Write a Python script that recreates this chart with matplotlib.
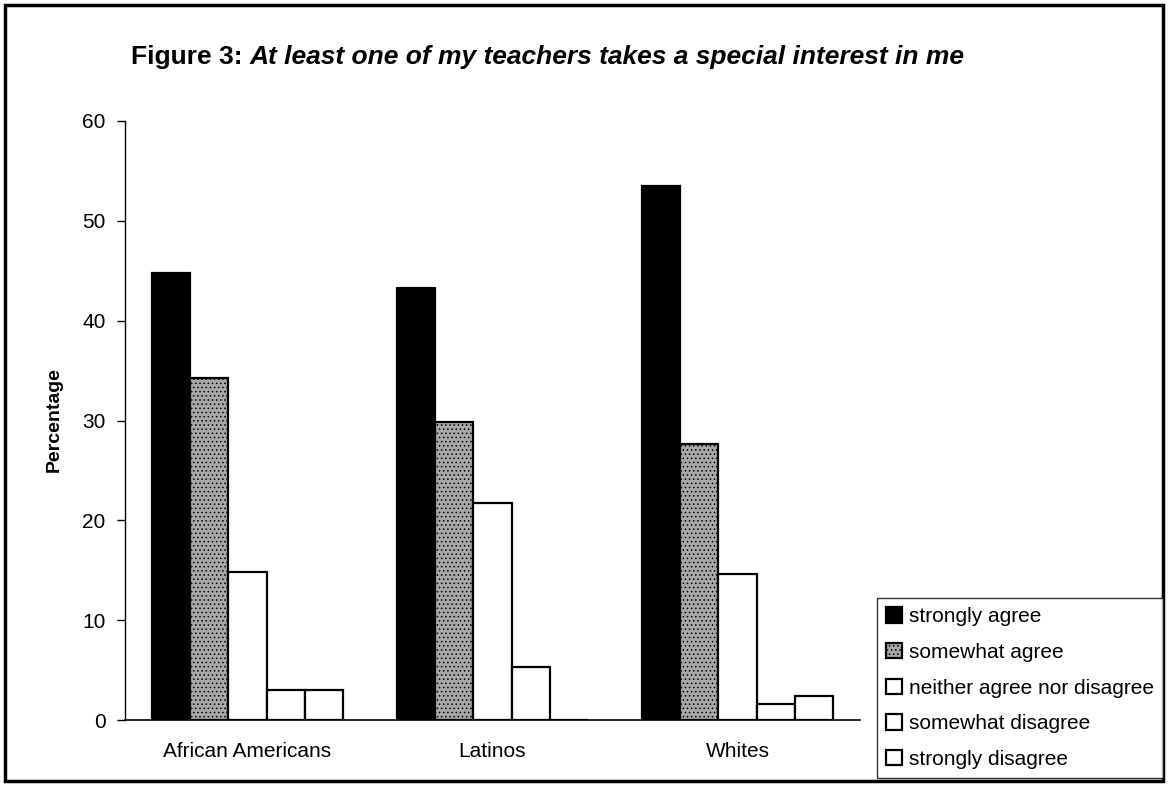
import matplotlib
matplotlib.use("Agg")
import matplotlib.pyplot as plt
from matplotlib.patches import Rectangle
import numpy as np

plt.rcParams['font.family'] = ['Liberation Sans', 'DejaVu Sans']
plt.rcParams['hatch.linewidth'] = 0.6

categories = ["African Americans", "Latinos", "Whites"]
series_names = ["strongly agree", "somewhat agree", "neither agree nor disagree",
                "somewhat disagree", "strongly disagree"]
strongly_agree = [44.8, 43.3, 53.5]
somewhat_agree = [34.3, 29.8, 27.6]
neither = [14.8, 21.7, 14.6]
somewhat_disagree = [3.0, 5.3, 1.6]
strongly_disagree = [3.0, 0.0, 2.4]
yticks = [0, 10, 20, 30, 40, 50, 60]

series = [strongly_agree, somewhat_agree, neither, somewhat_disagree, strongly_disagree]
faces = ["black", "#a8a8a8", "white", "white", "white"]
hatches = [None, "....", None, None, None]

W, H = 1171, 790
fig = plt.figure(figsize=(W / 100, H / 100), dpi=100)
ax = fig.add_axes([125 / W, 1 - 720 / H, (860 - 125) / W, (720 - 121) / H])

x = np.arange(len(categories))
w = 0.156
for i, (vals, fc, h) in enumerate(zip(series, faces, hatches)):
    ax.bar(x + (i - 2) * w, vals, width=w, facecolor=fc, edgecolor="black",
           linewidth=1.6, hatch=h, label=series_names[i])

ax.set_xlim(-0.5, 2.5)
ax.set_ylim(0, 60)
ax.set_yticks(yticks)
ax.set_xticks(x)
ax.set_xticklabels(categories, fontsize=15)
ax.tick_params(axis='y', labelsize=15, length=6, width=1, pad=8)
ax.tick_params(axis='x', length=0, pad=16)
for s in ["top", "right"]:
    ax.spines[s].set_visible(False)
ax.spines["left"].set_linewidth(1)
ax.spines["bottom"].set_linewidth(1.2)
ax.set_ylabel("Percentage", fontsize=14, fontweight="bold")
ax.yaxis.set_label_coords(63 / W, 1 - 420 / H, transform=fig.transFigure)

t1 = fig.text(131 / W, 1 - 57 / H, "Figure 3: ", fontsize=19, fontweight="bold",
              va="center", ha="left")
fig.canvas.draw()
bb = t1.get_window_extent()
fig.text(bb.x1 / W, 1 - 57 / H, "At least one of my teachers takes a special interest in me",
         fontsize=19, fontweight="bold", style="italic", va="center", ha="left")

leg = fig.legend(loc="upper left", bbox_to_anchor=(877 / W, 1 - 598 / H, (1163 - 877) / W, 0),
                 mode="expand",
                 fontsize=15, frameon=True, fancybox=False, edgecolor="black",
                 handlelength=0.75, handleheight=0.75, handletextpad=0.35, labelspacing=0.8,
                 borderpad=0.45, borderaxespad=0)
leg.get_frame().set_linewidth(1)

fig.patches.append(Rectangle((5 / W, 1 - 781 / H), (1163 - 5) / W, (781 - 5) / H,
                             transform=fig.transFigure, fill=False, edgecolor="black",
                             linewidth=2.5))

fig.savefig("out.png", dpi=100)
